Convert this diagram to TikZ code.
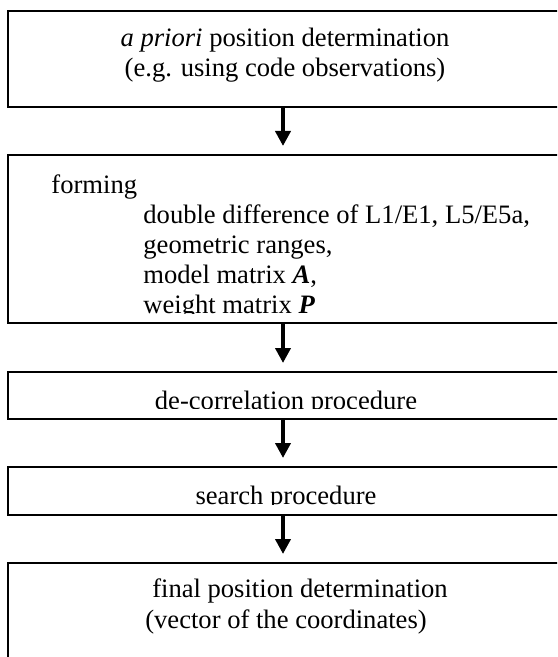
\documentclass[tikz,border=0pt]{standalone}
\usepackage{fontspec}
\setmainfont{Liberation Serif}
\usetikzlibrary{arrows.meta,positioning}

\tikzset{
  stage/.style={draw, rectangle, line width=0.9pt, inner sep=0pt, outer sep=0pt,
    minimum width=300pt, anchor=north west},
  steptext/.style={inner sep=0pt, font=\fontsize{13.3}{15.1}\selectfont},
  flow/.style={-{Triangle[length=7.5pt,width=7.5pt]}, line width=2pt}
}

\begin{document}
\begin{tikzpicture}[x=0.5pt, y=-0.5pt]
\clip (0,0) rectangle (557,657);
% processing stages, open to the right
\node[stage, minimum height=48pt] (apriori) at (8,11) {};
\node[stage, minimum height=84pt] (forming) at (8,155) {};
\node[stage, minimum height=23.5pt] (decorr) at (8,372) {};
\node[stage, minimum height=24pt] (search) at (8,467) {};
\node[stage, minimum height=60pt] (final) at (8,563) {};

% texts (base = last line)
\node[steptext, align=center, anchor=base] (aprioritxt) at (285,77)
  {\textit{a priori} position determination\\(e.g. using code observations)};
\begin{scope}
\clip (forming.north west) rectangle ([yshift=5pt]forming.south east);
\node[steptext, align=left, anchor=base west] (formingtxt) at (51,314)
  {forming\\
   \hspace*{46pt}double difference of L1/E1, L5/E5a,\\
   \hspace*{46pt}geometric ranges,\\
   \hspace*{46pt}model matrix \textbf{\textit{A}},\\
   \hspace*{46pt}weight matrix \textbf{\textit{P}}};
\end{scope}
\begin{scope}
\clip (decorr.north west) rectangle ([yshift=5.5pt]decorr.south east);
\node[steptext, anchor=base] (decorrtxt) at (286,409) {de-correlation procedure};
\end{scope}
\begin{scope}
\clip (search.north west) rectangle ([yshift=5.5pt]search.south east);
\node[steptext, anchor=base] (searchtxt) at (286,504) {search procedure};
\end{scope}
\node[steptext, align=center, anchor=base] (finaltxt) at (286,628)
  {\hspace*{14pt}final position determination\\(vector of the coordinates)};

% arrows between stages
\coordinate (spine) at (283,0);
\draw[flow] (apriori.south -| spine) -- ([yshift=4.5pt]forming.north -| spine);
\draw[flow] (forming.south -| spine) -- ([yshift=4.5pt]decorr.north -| spine);
\draw[flow] (decorr.south -| spine) -- ([yshift=4.5pt]search.north -| spine);
\draw[flow] (search.south -| spine) -- ([yshift=4.5pt]final.north -| spine);
\end{tikzpicture}
\end{document}
